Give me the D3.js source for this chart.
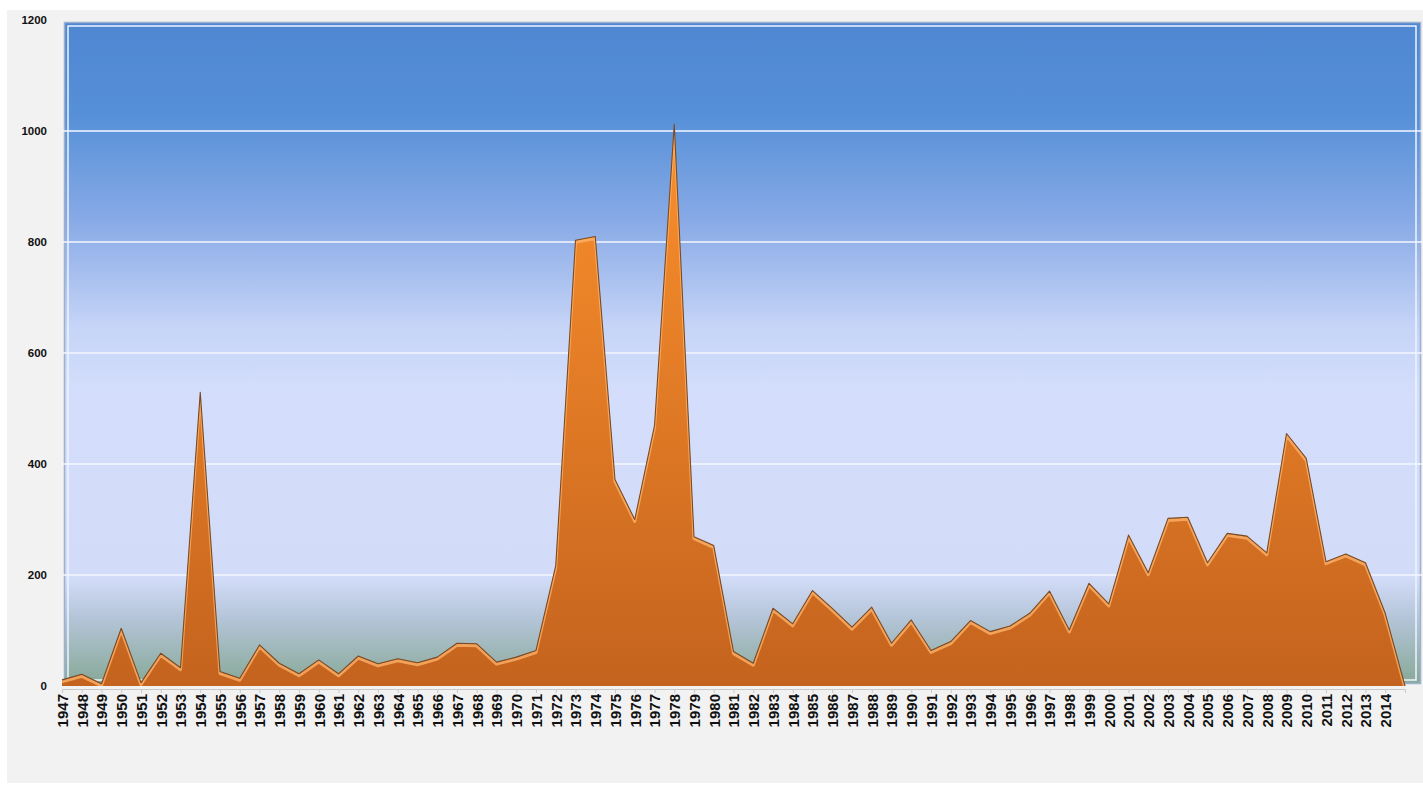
<!DOCTYPE html>
<html>
<head>
<meta charset="utf-8">
<script src="https://cdn.jsdelivr.net/npm/d3@7"></script>
<style>
  html, body { margin: 0; padding: 0; background: #ffffff; }
  svg { display: block; }
  text { font-family: 'Liberation Sans', Arial, sans-serif; font-weight: bold; fill: #111; }
</style>
</head>
<body>
<div id="chart"></div>
<script>
const years = [
  1947, 1948, 1949, 1950, 1951, 1952, 1953, 1954, 1955, 1956,
  1957, 1958, 1959, 1960, 1961, 1962, 1963, 1964, 1965, 1966,
  1967, 1968, 1969, 1970, 1971, 1972, 1973, 1974, 1975, 1976,
  1977, 1978, 1979, 1980, 1981, 1982, 1983, 1984, 1985, 1986,
  1987, 1988, 1989, 1990, 1991, 1992, 1993, 1994, 1995, 1996,
  1997, 1998, 1999, 2000, 2001, 2002, 2003, 2004, 2005, 2006,
  2007, 2008, 2009, 2010, 2011, 2012, 2013, 2014, 2015
];

const values = [
  11, 21, 4, 104, 6, 59, 33, 529, 26, 14,
  74, 41, 22, 47, 22, 54, 40, 49, 42, 52,
  77, 76, 43, 52, 64, 217, 803, 810, 372, 300,
  469, 1012, 269, 253, 62, 41, 140, 112, 172, 140,
  106, 142, 77, 119, 64, 80, 118, 98, 108, 131,
  171, 101, 185, 148, 272, 204, 302, 304, 222, 275,
  270, 240, 455, 410, 224, 238, 222, 131, 0
];

// the last year has no label on the axis
const tickLabels = years.slice(0, 68);
const yTicks = [0, 200, 400, 600, 800, 1000, 1200];

const width = 1423,
  height = 785;

const data = years.map((year, i) => ({ year: year, value: values[i] }));

const svg = d3
  .select('#chart')
  .append('svg')
  .attr('width', width)
  .attr('height', height);

const x = d3.scalePoint().domain(years).range([62, 1405]);
const y = d3.scaleLinear().domain([0, 1200]).range([686, 20]);

const defs = svg.append('defs');

const bg = defs
  .append('linearGradient')
  .attr('id', 'bgGrad')
  .attr('x1', 0).attr('y1', 0)
  .attr('x2', 0).attr('y2', 1);
[
  [0, '#4f87d2'],
  [0.14, '#5690d8'],
  [0.3, '#88aae6'],
  [0.46, '#c6d4f7'],
  [0.56, '#d4defc'],
  [0.84, '#d2dcf8'],
  [0.9, '#b5c5d9'],
  [1, '#87a998'],
].forEach(([o, c]) => bg.append('stop').attr('offset', o).attr('stop-color', c));

const orange = defs
  .append('linearGradient')
  .attr('id', 'areaGrad')
  .attr('x1', 0).attr('y1', 0)
  .attr('x2', 0).attr('y2', 1);
[
  [0, '#f98f2c'],
  [0.45, '#e37c26'],
  [1, '#c4631e'],
].forEach(([o, c]) => orange.append('stop').attr('offset', o).attr('stop-color', c));

/* ------- PANEL AND PLOT FRAME ------- */
svg
  .append('rect')
  .attr('x', 7)
  .attr('y', 10)
  .attr('width', width - 7)
  .attr('height', 773)
  .attr('fill', '#f2f2f2');

const frameTop = y(1200) + 2.5;
const frameBottom = y(0) - 2.5;

svg
  .append('rect')
  .attr('x', 64.5)
  .attr('y', frameTop)
  .attr('width', 1356)
  .attr('height', frameBottom - frameTop)
  .attr('fill', 'url(#bgGrad)')
  .attr('stroke', '#9cb1cf')
  .attr('stroke-width', 1.5);

svg
  .append('rect')
  .attr('x', 68)
  .attr('y', frameTop + 3.5)
  .attr('width', 1348)
  .attr('height', frameBottom - frameTop - 7)
  .attr('fill', 'none')
  .attr('stroke', '#eef4ff')
  .attr('stroke-width', 1.5);

/* ------- GRIDLINES ------- */
svg
  .append('g')
  .selectAll('line')
  .data(yTicks.filter((t) => t > 0 && t < 1200))
  .join('line')
  .attr('x1', 63)
  .attr('x2', width)
  .attr('y1', (d) => y(d))
  .attr('y2', (d) => y(d))
  .attr('stroke', '#f4f7ff')
  .attr('stroke-width', 1.5);

/* ------- AXES ------- */
const yAxis = svg
  .append('g')
  .attr('transform', 'translate(62,0)')
  .call(d3.axisLeft(y).tickValues(yTicks).tickFormat(d3.format('d')).tickSize(0).tickPadding(15));
yAxis.select('.domain').remove();
yAxis.selectAll('text').style('font-size', '11.5px');

const xAxis = svg
  .append('g')
  .attr('transform', `translate(0,${y(0) + 3})`)
  .call(d3.axisBottom(x).tickValues(tickLabels).tickFormat(d3.format('d')).tickSize(4));
xAxis.select('.domain').attr('stroke', '#c9c9c9');
xAxis.selectAll('.tick line').attr('stroke', '#c9c9c9');
xAxis
  .selectAll('text')
  .style('font-size', '15px')
  .attr('transform', 'rotate(-90)')
  .attr('text-anchor', 'end')
  .attr('x', -5)
  .attr('y', 0)
  .attr('dy', '0.36em');

/* ------- AREA ------- */
const area = d3
  .area()
  .x((d) => x(d.year))
  .y0(y(0))
  .y1((d) => y(d.value));

const line = d3
  .line()
  .x((d) => x(d.year))
  .y((d) => y(d.value));

defs
  .append('clipPath')
  .attr('id', 'areaClip')
  .append('path')
  .attr('d', area(data));

svg
  .append('path')
  .datum(data)
  .attr('d', area)
  .attr('fill', 'url(#areaGrad)');

// soft bevel highlight just under the top edge
svg
  .append('g')
  .attr('clip-path', 'url(#areaClip)')
  .append('path')
  .datum(data)
  .attr('d', line)
  .attr('transform', 'translate(0,2)')
  .attr('fill', 'none')
  .attr('stroke', '#ffb56e')
  .attr('stroke-width', 3)
  .attr('stroke-opacity', 0.75)
  .attr('stroke-linejoin', 'round');

svg
  .append('path')
  .datum(data)
  .attr('d', line)
  .attr('fill', 'none')
  .attr('stroke', '#7a4a24')
  .attr('stroke-width', 1.1)
  .attr('stroke-linejoin', 'round');
</script>
</body>
</html>
